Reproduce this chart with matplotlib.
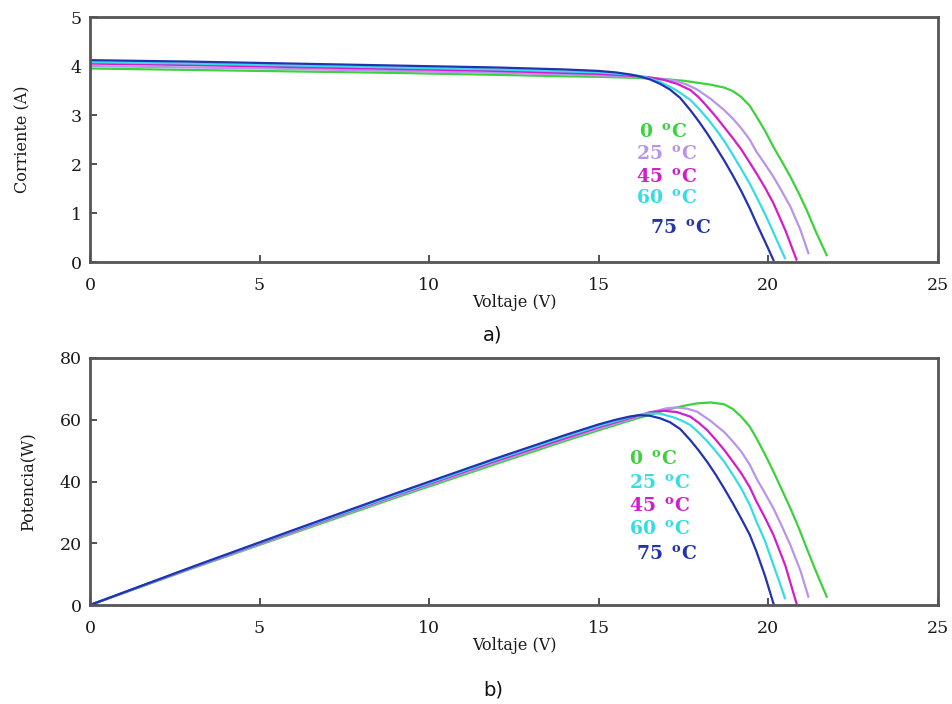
import numpy as np
import matplotlib
matplotlib.use('Agg')
from matplotlib import pyplot as plt

# curvas: voltaje, corriente y potencia por temperatura
v_0 = [0, 3, 6, 9, 12, 14, 15, 16, 17, 17.5, 17.9, 18.3, 18.7, 18.95, 19.2, 19.45, 19.65, 19.9, 20.15, 20.4, 20.65, 20.9, 21.13, 21.4, 21.72]
i_0 = [3.95, 3.92, 3.89, 3.86, 3.82, 3.79, 3.78, 3.76, 3.73, 3.70, 3.66, 3.62, 3.56, 3.49, 3.37, 3.19, 2.97, 2.68, 2.35, 2.05, 1.74, 1.40, 1.06, 0.62, 0.14]
p_0 = [0, 11.8, 23.3, 34.7, 45.8, 53.1, 56.6, 60.0, 63.2, 64.5, 65.3, 65.6, 65.0, 63.5, 61.0, 57.8, 54.0, 48.8, 43.2, 37.3, 31.3, 24.9, 18.4, 11.0, 2.7]

v_25 = [0, 3, 6, 9, 12, 14, 15, 16, 16.5, 17, 17.3, 17.6, 17.9, 18.3, 18.7, 18.95, 19.2, 19.45, 19.65, 19.9, 20.15, 20.4, 20.65, 20.95, 21.18]
i_25 = [4.00, 3.97, 3.94, 3.90, 3.86, 3.83, 3.81, 3.78, 3.76, 3.73, 3.69, 3.62, 3.52, 3.33, 3.10, 2.93, 2.73, 2.50, 2.25, 2.00, 1.74, 1.44, 1.13, 0.65, 0.18]
p_25 = [0, 11.9, 23.6, 35.1, 46.3, 53.6, 57.1, 60.4, 62.3, 63.7, 64.0, 63.6, 62.6, 59.6, 56.0, 53.0, 49.7, 45.5, 41.0, 36.2, 31.3, 25.5, 19.4, 11.0, 2.7]

v_45 = [0, 3, 6, 9, 12, 14, 15, 16, 16.5, 16.9, 17.3, 17.7, 17.95, 18.2, 18.45, 18.7, 18.95, 19.2, 19.45, 19.65, 19.9, 20.15, 20.5, 20.83]
i_45 = [4.05, 4.02, 3.98, 3.94, 3.90, 3.86, 3.84, 3.80, 3.77, 3.72, 3.64, 3.51, 3.36, 3.17, 2.97, 2.75, 2.53, 2.30, 2.03, 1.81, 1.52, 1.20, 0.65, 0.05]
p_45 = [0, 12.1, 23.9, 35.5, 46.8, 54.0, 57.6, 60.8, 62.4, 62.9, 62.5, 61.0, 59.0, 56.6, 53.5, 50.2, 46.5, 42.7, 38.2, 33.5, 28.3, 22.7, 12.8, 0.5]

v_60 = [0, 3, 6, 9, 12, 14, 15, 16, 16.4, 16.8, 17.2, 17.45, 17.7, 17.95, 18.2, 18.45, 18.7, 18.95, 19.2, 19.45, 19.65, 19.9, 20.1, 20.3, 20.49]
i_60 = [4.08, 4.05, 4.01, 3.97, 3.93, 3.89, 3.87, 3.82, 3.77, 3.68, 3.54, 3.43, 3.31, 3.13, 2.93, 2.71, 2.47, 2.19, 1.90, 1.60, 1.33, 0.98, 0.68, 0.37, 0.08]
p_60 = [0, 12.2, 24.1, 35.7, 47.2, 54.5, 58.0, 61.1, 62.0, 62.0, 60.8, 59.7, 58.3, 55.8, 53.0, 49.8, 46.4, 42.2, 37.8, 32.5, 27.0, 20.8, 14.5, 8.3, 2.2]

v_75 = [0, 3, 6, 9, 12, 14, 15, 15.5, 15.9, 16.2, 16.5, 16.8, 17.1, 17.4, 17.7, 17.95, 18.2, 18.45, 18.7, 18.95, 19.2, 19.45, 19.65, 19.9, 20.15]
i_75 = [4.12, 4.09, 4.05, 4.01, 3.97, 3.93, 3.90, 3.87, 3.83, 3.79, 3.73, 3.64, 3.52, 3.35, 3.10, 2.87, 2.62, 2.35, 2.07, 1.77, 1.45, 1.10, 0.79, 0.42, 0.04]
p_75 = [0, 12.3, 24.3, 36.1, 47.6, 55.0, 58.5, 60.0, 61.0, 61.5, 61.3, 60.5, 59.2, 57.0, 53.4, 50.0, 46.3, 42.2, 37.7, 33.0, 28.0, 22.8, 17.3, 9.5, 0.5]

temps = ['0', '25', '45', '60', '75']
col_verde = '#3cd23c'
col_lila = '#b894ec'
col_magenta = '#d21ec8'
col_cian = '#35dce6'
col_azul = '#2232b0'
colores = [col_verde, col_lila, col_magenta, col_cian, col_azul]
colores_b = [col_verde, col_cian, col_magenta, col_cian, col_azul]

curvas_i = [(v_0, i_0), (v_25, i_25), (v_45, i_45), (v_60, i_60), (v_75, i_75)]
curvas_p = [(v_0, p_0), (v_25, p_25), (v_45, p_45), (v_60, p_60), (v_75, p_75)]

serif = 'DejaVu Serif'
gris = '#555555'

fig = plt.figure(figsize=(9.53, 7.04), dpi=100)
ax1 = fig.add_axes([0.0944, 0.6278, 0.8898, 0.348])
ax2 = fig.add_axes([0.0944, 0.1406, 0.8898, 0.3509])


def estilo(ax):
    for s in ax.spines.values():
        s.set_color(gris)
        s.set_linewidth(2.0)
    ax.tick_params(direction='in', length=5, width=1.2, color='#333333',
                   labelsize=12.5, labelcolor='#1a1a1a')
    ax.tick_params(axis='x', pad=11)
    ax.tick_params(axis='y', pad=6)
    for lab in ax.get_xticklabels() + ax.get_yticklabels():
        lab.set_fontfamily(serif)
    ax.set_xlim(0, 25)
    ax.set_xticks([0, 5, 10, 15, 20, 25])


def etiqueta(t):
    return t + ' $\\,^{\\mathregular{o}}$C'


for (v, i), c in zip(curvas_i, colores):
    ax1.plot(v, i, color=c, lw=1.6)
ax1.set_ylim(0, 5)
ax1.set_yticks([0, 1, 2, 3, 4, 5])
estilo(ax1)
ax1.set_xlabel('Voltaje (V)', family=serif, fontsize=11.5, color='#1a1a1a', labelpad=0)
ax1.set_ylabel('Corriente (A)', family=serif, fontsize=11.5, color='#1a1a1a', labelpad=28)

pos_a = [(16.2, 2.65), (16.1, 2.2), (16.1, 1.72), (16.1, 1.29), (16.5, 0.69)]
for t, c, (x, y) in zip(temps, colores, pos_a):
    ax1.text(x, y, etiqueta(t), color=c, family=serif, weight='bold',
             fontsize=13.5, va='center', ha='left')

for (v, p), c in zip(curvas_p, colores):
    ax2.plot(v, p, color=c, lw=1.6)
ax2.set_ylim(0, 80)
ax2.set_yticks([0, 20, 40, 60, 80])
estilo(ax2)
ax2.set_xlabel('Voltaje (V)', family=serif, fontsize=11.5, color='#1a1a1a', labelpad=0)
ax2.set_ylabel('Potencia(W)', family=serif, fontsize=11.5, color='#1a1a1a', labelpad=16)

pos_b = [(15.9, 47.0), (15.9, 39.3), (15.9, 31.8), (15.9, 24.3), (16.1, 16.3)]
for t, c, (x, y) in zip(temps, colores_b, pos_b):
    ax2.text(x, y, etiqueta(t), color=c, family=serif, weight='bold',
             fontsize=13.5, va='center', ha='left')

fig.text(483 / 953, 1 - 335 / 704, 'a)', fontsize=14, color='#111111', ha='left', va='center')
fig.text(483 / 953, 1 - 690 / 704, 'b)', fontsize=14, color='#111111', ha='left', va='center')

fig.savefig('out.png', dpi=100)
